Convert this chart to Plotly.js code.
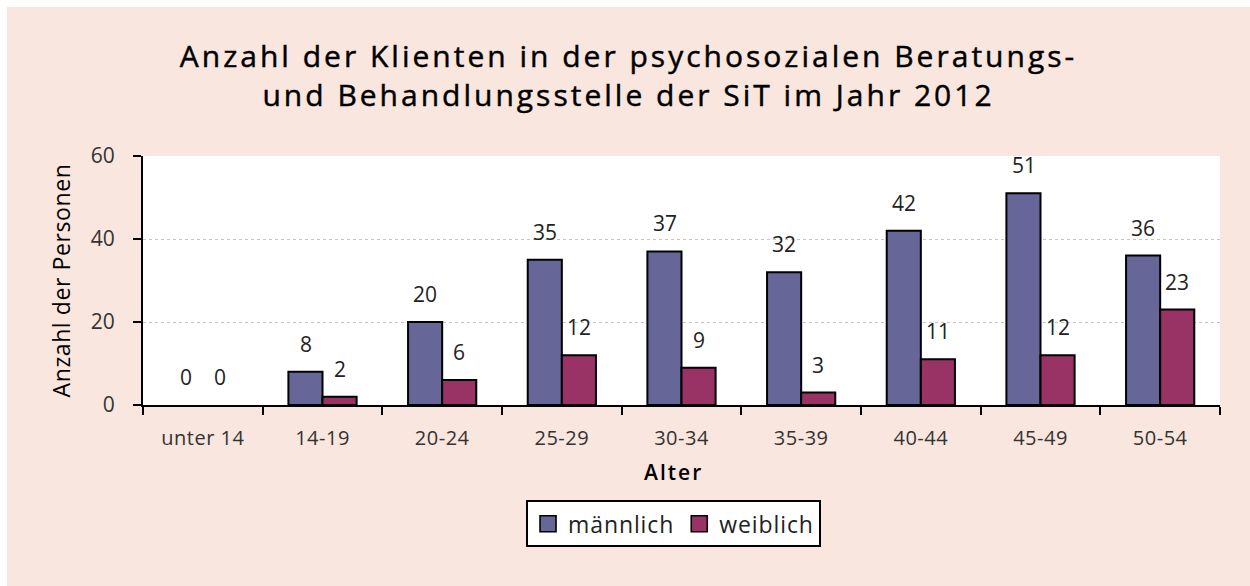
<!DOCTYPE html>
<html>
<head>
<meta charset="utf-8">
<script src="https://cdn.plot.ly/plotly-3.0.1.min.js"></script>
<style>
html, body { margin: 0; padding: 0; background: #ffffff; overflow: hidden; }
#chart { position: absolute; left: 7px; top: 7px; width: 1243px; height: 579px; }
.gtitle { letter-spacing: 3px; stroke: #000000; stroke-width: 0.45px; }
.ytitle { letter-spacing: 0.6px; }
.legendtext { letter-spacing: 0.9px; }
.xtick text { letter-spacing: 0.5px; }
.legendpoints path { stroke: #000000 !important; stroke-width: 1.6px !important; d: path("M8,8H-8V-8H8Z") !important; }
</style>
</head>
<body>
<div id="chart"></div>
<script>
const categories = ["unter 14", "14-19", "20-24", "25-29", "30-34", "35-39", "40-44", "45-49", "50-54"];
const maennlich = [0, 8, 20, 35, 37, 32, 42, 51, 36];
const weiblich = [0, 2, 6, 12, 9, 3, 11, 12, 23];
const seriesNames = ["männlich", "weiblich"];
const yTicks = [0, 20, 40, 60];

const sans = "'Open Sans', 'Noto Sans', sans-serif";

function makeTrace(name, vals, color) {
  return {
    type: 'bar', x: categories, y: vals, name: name,
    hoverinfo: 'none', cliponaxis: false,
    marker: { color: color, line: { color: '#000000', width: vals.map(v => v === 0 ? 0 : 2) } }
  };
}

const traces = [
  makeTrace(seriesNames[0], maennlich, '#666699'),
  makeTrace(seriesNames[1], weiblich, '#993366')
];

const annotations = [];
[maennlich, weiblich].forEach((vals, si) => {
  vals.forEach((v, i) => {
    annotations.push({
      x: categories[i], y: v, xref: 'x', yref: 'y',
      text: String(v), showarrow: false,
      xshift: si === 0 ? -17 : 17, yshift: 28,
      yanchor: 'middle', xanchor: 'center',
      font: { family: sans, size: 21, color: '#222222' }
    });
  });
});
annotations.push({
  x: 0.4926, y: -0.27, xref: 'paper', yref: 'paper',
  text: '<span style="letter-spacing:2px">Alter</span>', showarrow: false,
  xanchor: 'center', yanchor: 'middle',
  font: { family: sans, size: 21, color: '#000000', weight: 600 }
});

const layout = {
  width: 1243, height: 579,
  paper_bgcolor: '#f9e6de',
  plot_bgcolor: '#ffffff',
  margin: { l: 136, r: 30, t: 149, b: 181 },
  title: {
    text: 'Anzahl der Klienten in der psychosozialen Beratungs-<br>und Behandlungsstelle der SiT im Jahr 2012',
    font: { family: sans, size: 30, color: '#000000', weight: 500 },
    x: 0.5, xanchor: 'center', y: 0.896, yanchor: 'top'
  },
  barmode: 'group',
  bargap: 0.43,
  bargroupgap: 0,
  showlegend: true,
  legend: {
    orientation: 'h', x: 0.4926, xanchor: 'center', y: -0.383, yanchor: 'top',
    bgcolor: '#ffffff', bordercolor: '#000000', borderwidth: 2,
    font: { family: sans, size: 23, color: '#222222' },
    traceorder: 'normal'
  },
  xaxis: {
    type: 'category',
    tickson: 'boundaries',
    ticks: 'outside', ticklen: 8, tickwidth: 2, tickcolor: '#000000',
    showline: true, linecolor: '#000000', linewidth: 2,
    showgrid: false,
    ticklabelstandoff: 14,
    tickfont: { family: sans, size: 20, color: '#333333' }
  },
  yaxis: {
    range: [0, 60],
    tickvals: yTicks,
    ticks: 'outside', ticklen: 8, tickwidth: 2, tickcolor: '#000000',
    showline: true, linecolor: '#000000', linewidth: 2,
    showgrid: true, gridcolor: '#c4c4c4', griddash: 'dot', gridwidth: 1,
    zeroline: false,
    ticklabelstandoff: 14,
    tickfont: { family: sans, size: 21, color: '#333333' },
    title: { text: 'Anzahl der Personen', font: { family: sans, size: 23, color: '#000000' }, standoff: 14 }
  },
  annotations: annotations
};

Plotly.newPlot('chart', traces, layout, { displayModeBar: false, staticPlot: true });
</script>
</body>
</html>
